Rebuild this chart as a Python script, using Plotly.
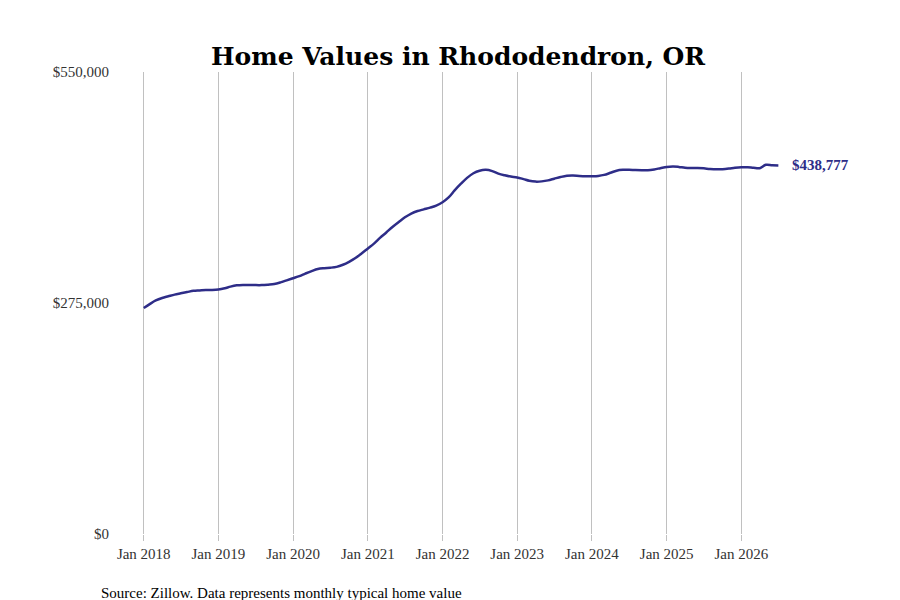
import plotly.graph_objects as go
import pandas as pd

dates = pd.date_range("2018-01-01", "2026-07-01", freq="MS")
values = [
    # 2018
    269000, 274000, 278000, 281000, 283000, 285000, 286500, 288000, 289500, 290000, 290500, 290500,
    # 2019
    291000, 292500, 294500, 296000, 296500, 296500, 296300, 296300, 296800, 297500, 299500, 302000,
    # 2020
    304500, 307000, 310000, 313000, 315500, 316500, 317000, 318000, 320500, 324000, 328500, 334000,
    # 2021
    340000, 346000, 352500, 359000, 365500, 371500, 377000, 381500, 384500, 386500, 388500, 391000,
    # 2022
    395000, 401000, 409000, 417000, 424000, 429500, 432500, 433500, 432000, 429000, 427000, 425500,
    # 2023
    424500, 422500, 420500, 419500, 419800, 421000, 423000, 425000, 426500, 426800, 426300, 426000,
    # 2024
    426000, 426300, 427500, 430000, 432500, 433500, 433600, 433200, 433000, 433000, 434000, 435500,
    # 2025
    437000, 437500, 437000, 436000, 435700, 435700, 435300, 434600, 434200, 434300, 435000, 436000,
    # 2026
    436600, 436600, 436000, 435500, 435000, 435000, 438777,
]
values[-3:] = [439500, 439000, 438777]

fig = go.Figure()
fig.add_trace(go.Scatter(
    x=dates, y=values, mode="lines", line=dict(color="#2e2d88", width=2.5, shape="spline"),
    hoverinfo="skip",
))
fig.add_annotation(x=dates[-1], y=values[-1], text="<b>$438,777</b>", showarrow=False,
                   xanchor="left", xshift=12, font=dict(color="#2e2d88", size=15, family="Liberation Serif"))
fig.add_annotation(x=0, y=-0.105, xref="paper", yref="paper", xanchor="left", yanchor="top", xshift=-11,
                   text="Source: Zillow. Data represents monthly typical home value", showarrow=False,
                   font=dict(size=15, color="black", family="Liberation Serif"))

fig.update_layout(
    width=900, height=600, plot_bgcolor="white", paper_bgcolor="white", showlegend=False,
    margin=dict(l=102, r=28, t=64, b=74),
    font=dict(family="Liberation Serif", color="#333"),
    title=dict(text="<b>Home Values in Rhododendron, OR</b>", x=0.5, y=0.935, xanchor="center",
               font=dict(size=25, color="black", family="DejaVu Serif")),
    xaxis=dict(range=["2017-07-20", "2027-11-10"], showgrid=True, gridcolor="#c0c0c0",
               tickvals=pd.date_range("2018-01-01", "2026-01-01", freq="YS"), tickformat="%b %Y",
               ticks="outside", ticklen=6, tickcolor="#c0c0c0", showline=False, zeroline=False,
               tickfont=dict(size=15)),
    yaxis=dict(range=[0, 550000], tickvals=[0, 275000, 550000], tickformat="$,.0f", showgrid=False,
               zeroline=False, tickfont=dict(size=15), ticklabelstandoff=0),
)
fig.write_html("out.html")
